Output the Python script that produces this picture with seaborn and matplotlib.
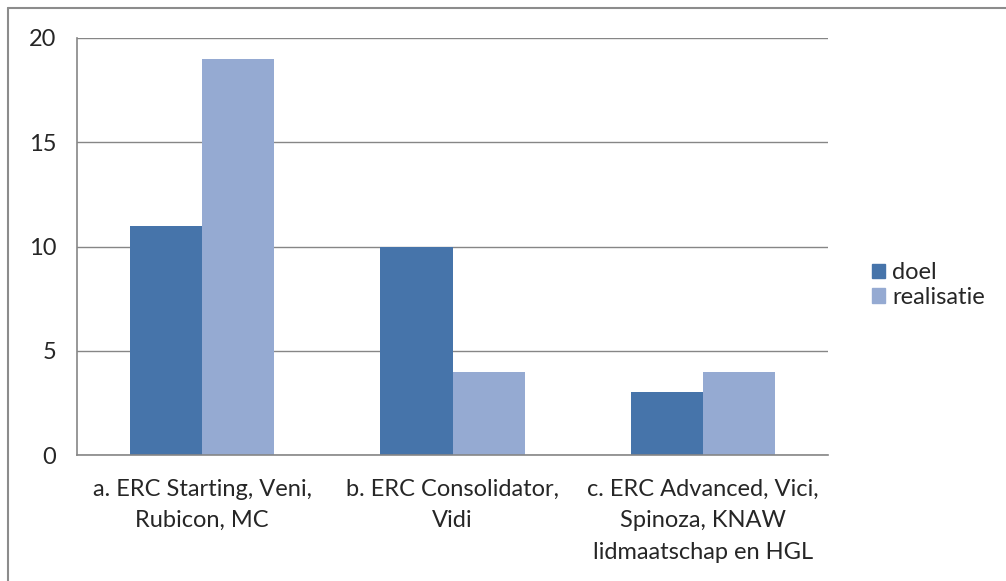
import pandas as pd
import matplotlib.pyplot as plt
import seaborn as sns
from matplotlib.patches import Rectangle
from matplotlib.lines import Line2D

categories = ['a. ERC Starting, Veni,\nRubicon, MC',
              'b. ERC Consolidator,\nVidi',
              'c. ERC Advanced, Vici,\nSpinoza, KNAW\nlidmaatschap en HGL']
series = ['doel', 'realisatie']
doel = [11, 10, 3]
realisatie = [19, 4, 4]
colors = ['#4674AA', '#95AAD2']

df = pd.DataFrame({
    'categorie': categories * 2,
    'reeks': ['doel'] * 3 + ['realisatie'] * 3,
    'waarde': doel + realisatie,
})

sns.set_style('white')
plt.rcParams['font.family'] = ['Lato', 'DejaVu Sans']

W, H = 1006, 581
fs = 17
fig = plt.figure(figsize=(W / 100, H / 100), dpi=100)
ax = fig.add_axes([77 / W, 1 - 455 / H, (828 - 77) / W, (455 - 38) / H])

sns.barplot(data=df, x='categorie', y='waarde', hue='reeks', hue_order=series,
            palette=colors, width=0.576, saturation=1, ax=ax, legend=False,
            edgecolor='none', linewidth=0)

grey = '#868686'
ax.set_ylim(0, 20)
ax.set_xlim(-0.5, 2.5)
ax.set_yticks([0, 5, 10, 15, 20])
ax.yaxis.grid(True, color=grey, linewidth=1)
ax.set_axisbelow(True)
for s in ['top', 'right']:
    ax.spines[s].set_visible(False)
for s in ['left', 'bottom']:
    ax.spines[s].set_color(grey)
    ax.spines[s].set_linewidth(1.2)
ax.set_xlabel('')
ax.set_ylabel('')
ax.tick_params(axis='y', length=6, width=1.2, color=grey, labelsize=fs, pad=9)
ax.tick_params(axis='x', which='major', length=0, labelsize=fs, pad=17)
ax.set_xticks([-0.5, 0.5, 1.5, 2.5], minor=True)
ax.tick_params(axis='x', which='minor', length=6, width=1.2, color=grey)
for lbl in ax.get_xticklabels():
    lbl.set_linespacing(1.62)

handles = [Rectangle((0, 0), 1, 1, color=c) for c in colors]
fig.legend(handles, series, loc='center left', bbox_to_anchor=(851 / W, 1 - 285 / H),
           frameon=False, fontsize=fs, handlelength=0.55, handleheight=0.55,
           handletextpad=0.3, labelspacing=0.15)

# outer chart border (top and left visible)
fig.add_artist(Line2D([8 / W, 8 / W], [1 - 8 / H, 0], color='#8C8C8C', linewidth=1.5,
                      transform=fig.transFigure))
fig.add_artist(Line2D([8 / W, 1], [1 - 8 / H, 1 - 8 / H], color='#8C8C8C', linewidth=1.5,
                      transform=fig.transFigure))

fig.savefig('out.png', dpi=100)
